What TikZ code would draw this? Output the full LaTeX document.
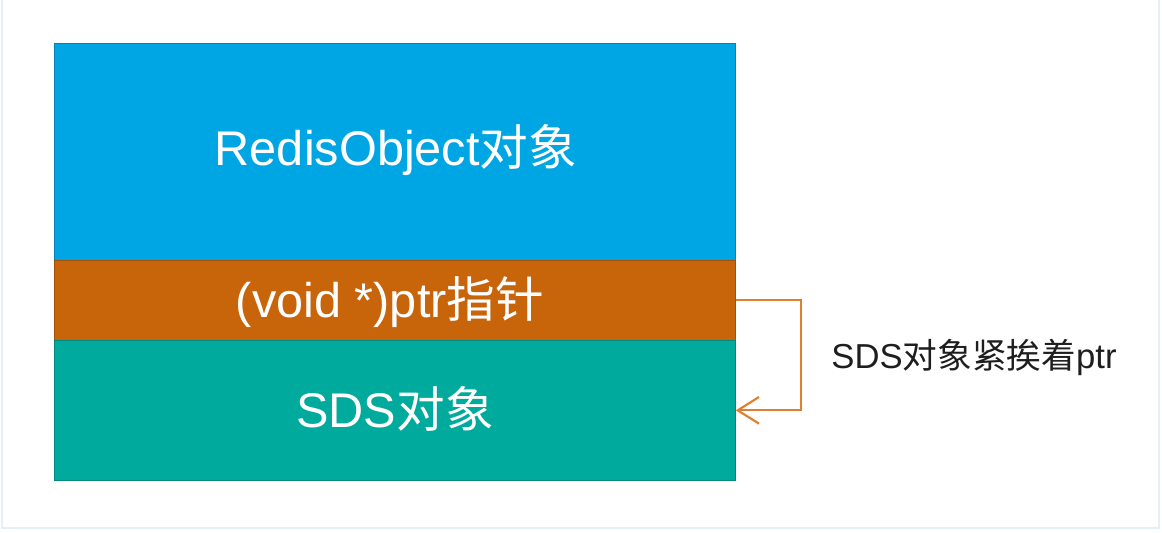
\documentclass[tikz,border=0pt]{standalone}
\usepackage{fontspec}
\setmainfont{Liberation Sans}
\newfontfamily\cjk{Noto Sans CJK SC}
\usetikzlibrary{arrows.meta}
\definecolor{boxblue}{RGB}{0,166,228}
\definecolor{boxorange}{RGB}{200,100,10}
\definecolor{boxteal}{RGB}{0,170,157}
\definecolor{arroworange}{RGB}{222,128,50}
\definecolor{framecol}{RGB}{228,240,248}
\definecolor{labelcol}{RGB}{30,30,30}
\tikzset{
  layer/.style={draw=#1!80!black, line width=0.5pt, fill=#1, minimum width=510.75pt, inner sep=0pt, anchor=north west},
  boxtext/.style={text=white, font=\fontsize{36.5}{40}\selectfont, anchor=base, inner sep=0pt},
  sidetext/.style={text=labelcol, font=\fontsize{26}{30}\selectfont, anchor=base, inner sep=0pt},
  link/.style={draw=arroworange, line width=1.6pt, -{Straight Barb[length=16pt,width=20pt,line width=1.6pt]}}
}
\begin{document}
\begin{tikzpicture}[x=0.75pt,y=-0.75pt]
\useasboundingbox (0,0) rectangle (1162,532);
\draw[framecol, line width=2.2pt] (2,-5) rectangle (1159,528);
\node[layer=boxblue, minimum height=162.75pt] (robj) at (54,43) {};
\node[layer=boxorange, minimum height=60pt] (ptr) at (54,260) {};
\node[layer=boxteal, minimum height=105pt] (sds) at (54,340) {};
\node[boxtext] (t1) at (396,165) {RedisObject{\cjk 对象}};
\node[boxtext] (t2) at (390,317) {(void *)ptr{\cjk 指针}};
\node[boxtext] (t3) at (395,427) {SDS{\cjk 对象}};
\draw[link] (ptr.east) -- ++(65,0) |- (sds.east);
\node[sidetext] (lbl) at (974,368) {SDS{\cjk 对象紧挨着}ptr};
\end{tikzpicture}
\end{document}
